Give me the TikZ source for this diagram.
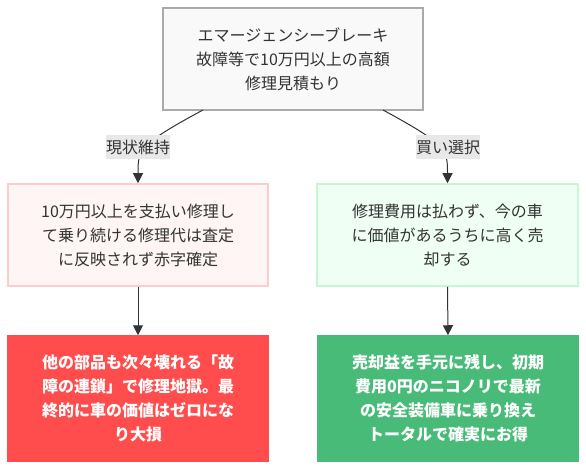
\documentclass[tikz,border=0pt]{standalone}
\usepackage{fontspec}
\setmainfont{Noto Sans CJK JP}
\usetikzlibrary{arrows.meta}
\definecolor{txt}{HTML}{333333}
\definecolor{topfill}{HTML}{F9F9F9}
\definecolor{topline}{HTML}{AAAAAA}
\definecolor{redfill}{HTML}{FFF5F5}
\definecolor{redline}{HTML}{FFCCCC}
\definecolor{grnfill}{HTML}{F0FFF4}
\definecolor{grnline}{HTML}{C6F6D5}
\definecolor{badfill}{HTML}{FF4D4D}
\definecolor{goodfill}{HTML}{48BB78}
\definecolor{lblfill}{HTML}{E8E8E8}
\tikzset{
  box/.style={rectangle, draw, line width=1.5pt, minimum width=260pt, align=center,
    inner sep=0pt, text=txt, font=\fontsize{16}{24}\selectfont},
  midbox/.style={box, minimum height=102pt},
  endbox/.style={box, minimum height=125pt, text=white, font=\fontsize{16}{24}\selectfont\bfseries},
  elabel/.style={fill=lblfill, inner xsep=0pt, inner ysep=0pt, minimum height=24pt,
    text=txt, font=\fontsize{16}{24}\selectfont},
  conn/.style={draw=txt, line width=1pt, -{Triangle[length=10pt,width=10pt]}},
}
\begin{document}
\begin{tikzpicture}[x=1pt,y=-1pt]
\useasboundingbox (0,0) rectangle (586,470);
\node[midbox, fill=topfill, draw=topline] (top) at (293,59)
  {エマージェンシーブレーキ\\故障等で10万円以上の高額\\修理見積もり};
\node[midbox, fill=redfill, draw=redline] (m1) at (138,235)
  {10万円以上を支払い修理し\\て乗り続ける修理代は査定\\に反映されず赤字確定};
\node[midbox, fill=grnfill, draw=grnline, minimum width=261pt] (m2) at (447.5,235)
  {修理費用は払わず、今の車\\に価値があるうちに高く売\\却する};
\node[endbox, fill=badfill, draw=badfill] (b1) at (138,398.5)
  {他の部品も次々壊れる「故\\障の連鎖」で修理地獄。最\\終的に車の価値はゼロにな\\り大損};
\node[endbox, fill=goodfill, draw=goodfill] (b2) at (448,398.5)
  {売却益を手元に残し、初期\\費用0円のニコノリで最新\\の安全装備車に乗り換え\\トータルで確実にお得};
\draw[conn] ([xshift=-90pt,yshift=0.75pt]top.south) .. controls (138,145) and (138,150) .. (m1.north);
\draw[conn] ([xshift=90pt,yshift=0.75pt]top.south) .. controls (447.5,145) and (447.5,150) .. (m2.north);
\node[elabel] (l1) at (138,147) {現状維持};
\node[elabel] (l2) at (448,147) {買い選択};
\draw[conn] (m1.south) -- (b1.north);
\draw[conn] (m2.south) -- (b2.north);
\end{tikzpicture}
\end{document}
